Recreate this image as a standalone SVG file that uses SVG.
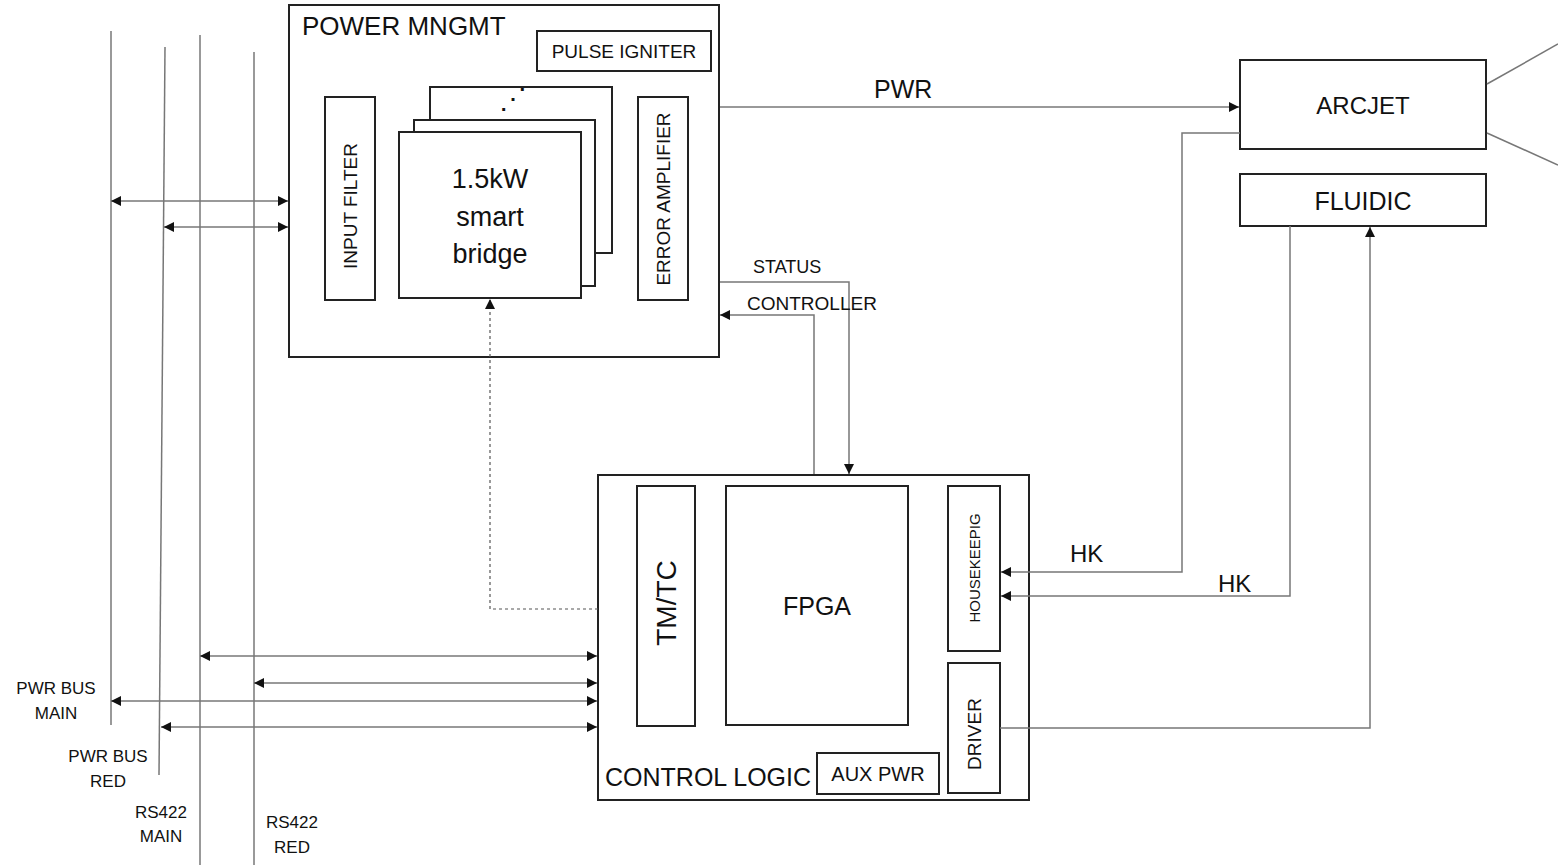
<svg xmlns="http://www.w3.org/2000/svg" width="1558" height="865" viewBox="0 0 1558 865">
<style>
.box{fill:#fff;stroke:#222;stroke-width:2}
.ln{fill:none;stroke:#777;stroke-width:1.5}
.t{font-family:"Liberation Sans",Arial,sans-serif;fill:#111}
</style>
<defs>
<marker id="ah" viewBox="0 0 10 10" refX="10" refY="5" markerWidth="11" markerHeight="10" markerUnits="userSpaceOnUse" orient="auto-start-reverse">
<path d="M0,0 L10,5 L0,10 Z" fill="#111"/>
</marker>
</defs>
<rect width="1558" height="865" fill="#fff"/>

<g id="buses">
<line class="ln" x1="111" y1="31" x2="111" y2="725"/>
<line class="ln" x1="165" y1="47" x2="159" y2="775"/>
<line class="ln" x1="200" y1="35" x2="200" y2="865"/>
<line class="ln" x1="254" y1="52" x2="254" y2="865"/>
<text class="t" font-size="17" text-anchor="middle" x="56" y="694">PWR BUS</text>
<text class="t" font-size="17" text-anchor="middle" x="56" y="719">MAIN</text>
<text class="t" font-size="17" text-anchor="middle" x="108" y="762">PWR BUS</text>
<text class="t" font-size="17" text-anchor="middle" x="108" y="787">RED</text>
<text class="t" font-size="17" text-anchor="middle" x="161" y="818">RS422</text>
<text class="t" font-size="17" text-anchor="middle" x="161" y="842">MAIN</text>
<text class="t" font-size="17" text-anchor="middle" x="292" y="828">RS422</text>
<text class="t" font-size="17" text-anchor="middle" x="292" y="853">RED</text>
</g>

<g id="power-mngmt">
<rect class="box" x="289" y="5" width="430" height="352"/>
<text class="t" font-size="26" x="302" y="35">POWER MNGMT</text>
</g>
<g id="pulse-igniter">
<rect class="box" x="537" y="31" width="174" height="40"/>
<text class="t" font-size="19" text-anchor="middle" x="624" y="58">PULSE IGNITER</text>
</g>
<g id="input-filter">
<rect class="box" x="325" y="97" width="50" height="203"/>
<text class="t" font-size="19" text-anchor="middle" transform="translate(357,206) rotate(-90)">INPUT FILTER</text>
</g>
<g id="smart-bridge">
<rect class="box" x="430" y="87" width="182" height="166"/>
<text class="t" font-size="28" text-anchor="middle" x="513" y="108">⋰</text>
<rect class="box" x="414" y="120" width="181" height="166"/>
<rect class="box" x="399" y="132" width="182" height="166"/>
<text class="t" font-size="27" text-anchor="middle" x="490" y="188">1.5kW</text>
<text class="t" font-size="27" text-anchor="middle" x="490" y="226">smart</text>
<text class="t" font-size="27" text-anchor="middle" x="490" y="263">bridge</text>
</g>
<g id="error-amplifier">
<rect class="box" x="638" y="97" width="50" height="203"/>
<text class="t" font-size="19" text-anchor="middle" transform="translate(670,199) rotate(-90)">ERROR AMPLIFIER</text>
</g>

<g id="control-logic">
<rect class="box" x="598" y="475" width="431" height="325"/>
<text class="t" font-size="25" x="605" y="786">CONTROL LOGIC</text>
</g>
<g id="tmtc">
<rect class="box" x="637" y="486" width="58" height="240"/>
<text class="t" font-size="28" text-anchor="middle" transform="translate(676,603) rotate(-90)">TM/TC</text>
</g>
<g id="fpga">
<rect class="box" x="726" y="486" width="182" height="239"/>
<text class="t" font-size="25" text-anchor="middle" x="817" y="615">FPGA</text>
</g>
<g id="housekeeping">
<rect class="box" x="948" y="486" width="52" height="165"/>
<text class="t" font-size="15" text-anchor="middle" transform="translate(980,568) rotate(-90)">HOUSEKEEPIG</text>
</g>
<g id="driver">
<rect class="box" x="948" y="663" width="52" height="130"/>
<text class="t" font-size="19" text-anchor="middle" transform="translate(981,734) rotate(-90)">DRIVER</text>
</g>
<g id="aux-pwr">
<rect class="box" x="817" y="753" width="122" height="41"/>
<text class="t" font-size="20" text-anchor="middle" x="878" y="781">AUX PWR</text>
</g>

<g id="arcjet">
<rect class="box" x="1240" y="60" width="246" height="89"/>
<text class="t" font-size="24" text-anchor="middle" x="1363" y="114">ARCJET</text>
<line class="ln" x1="1487" y1="84" x2="1558" y2="44"/>
<line class="ln" x1="1487" y1="133" x2="1558" y2="165"/>
</g>
<g id="fluidic">
<rect class="box" x="1240" y="174" width="246" height="52"/>
<text class="t" font-size="25" text-anchor="middle" x="1363" y="210">FLUIDIC</text>
</g>

<g id="connectors">
<line class="ln" x1="111" y1="201" x2="288" y2="201" marker-start="url(#ah)" marker-end="url(#ah)"/>
<line class="ln" x1="164" y1="227" x2="288" y2="227" marker-start="url(#ah)" marker-end="url(#ah)"/>
<line class="ln" x1="200" y1="656" x2="597" y2="656" marker-start="url(#ah)" marker-end="url(#ah)"/>
<line class="ln" x1="254" y1="683" x2="597" y2="683" marker-start="url(#ah)" marker-end="url(#ah)"/>
<line class="ln" x1="111" y1="701" x2="597" y2="701" marker-start="url(#ah)" marker-end="url(#ah)"/>
<line class="ln" x1="161" y1="727" x2="597" y2="727" marker-start="url(#ah)" marker-end="url(#ah)"/>
<line class="ln" x1="720" y1="107" x2="1239" y2="107" marker-end="url(#ah)"/>
<text class="t" font-size="25" x="874" y="98">PWR</text>
<polyline class="ln" points="720,282 849,282 849,474" marker-end="url(#ah)"/>
<text class="t" font-size="18" x="753" y="273">STATUS</text>
<polyline class="ln" points="814,474 814,315 720,315" marker-end="url(#ah)"/>
<text class="t" font-size="19" x="747" y="310">CONTROLLER</text>
<polyline points="598,609 490,609 490,299" fill="none" stroke="#555" stroke-width="1.2" stroke-dasharray="3,3" marker-end="url(#ah)"/>
<polyline class="ln" points="1240,133 1182,133 1182,572 1001,572" marker-end="url(#ah)"/>
<text class="t" font-size="24" x="1070" y="562">HK</text>
<polyline class="ln" points="1290,226 1290,596 1001,596" marker-end="url(#ah)"/>
<text class="t" font-size="24" x="1218" y="592">HK</text>
<polyline class="ln" points="1000,728 1370,728 1370,227" marker-end="url(#ah)"/>
</g>
</svg>
